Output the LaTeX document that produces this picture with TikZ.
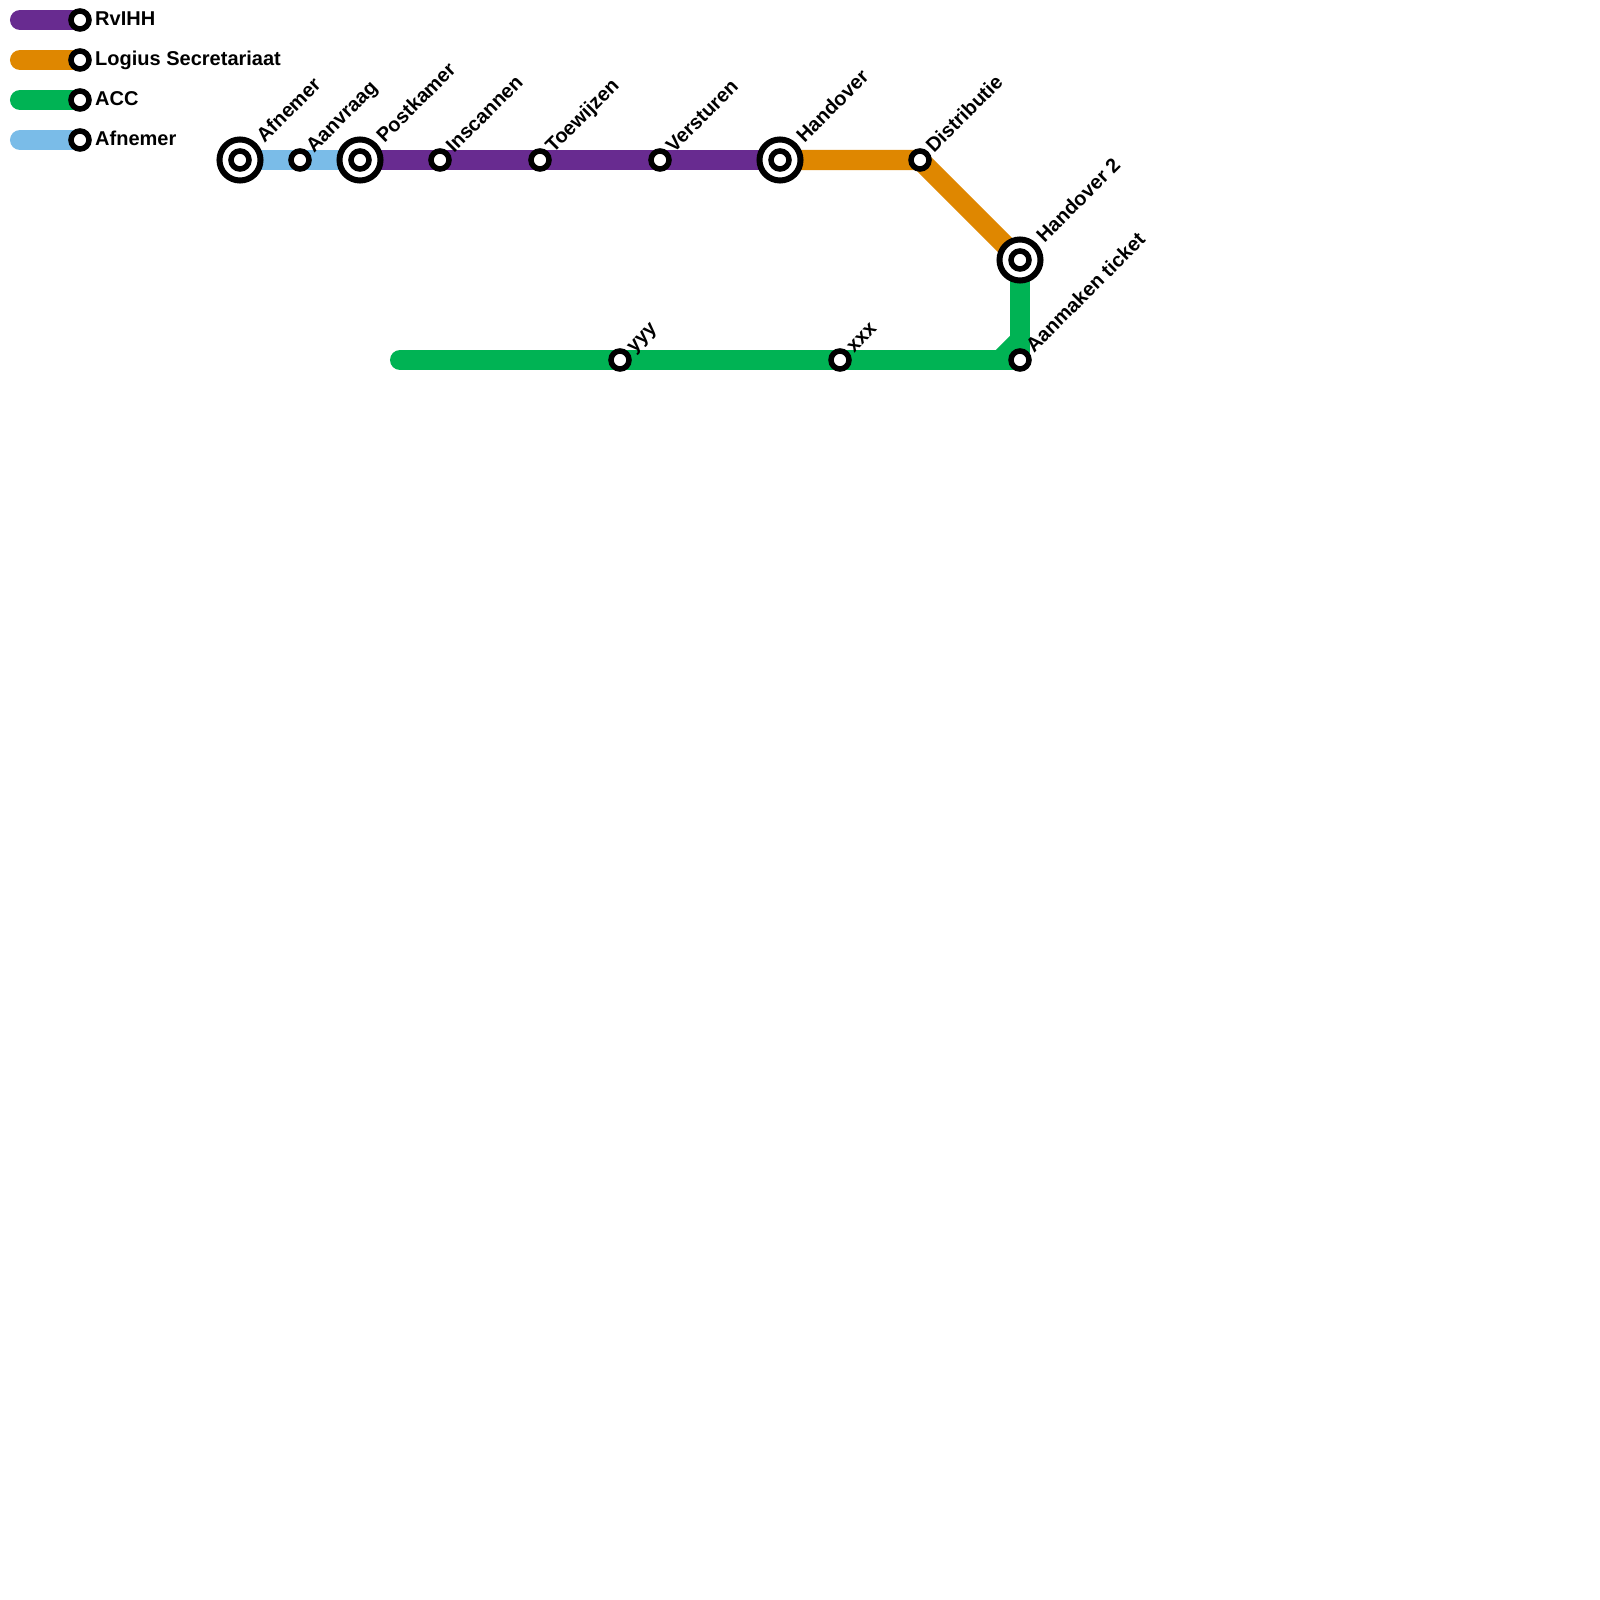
\documentclass[tikz,border=0pt]{standalone}
\usepackage{fontspec}
\setmainfont{Liberation Sans}
\usetikzlibrary{backgrounds}
\definecolor{rvihh}{RGB}{104,43,144}
\definecolor{logius}{RGB}{223,135,0}
\definecolor{acc}{RGB}{0,179,84}
\definecolor{afnemer}{RGB}{122,188,232}
\begin{document}
\begin{tikzpicture}[x=.01cm,y=-.01cm,every node/.style={font=\fontsize{5.69pt}{6pt}\selectfont\bfseries}]
\tikzstyle{halte}=[circle,draw=black,line width=.055cm,fill=white,minimum size=.18cm,inner sep=0pt]
\tikzstyle{hub}=[circle,draw=black,line width=.06cm,fill=white,minimum size=.41cm,inner sep=0pt]
\tikzstyle{lijn}=[line width=.2cm,line join=miter]
\tikzstyle{naam}=[rotate=45,anchor=base west,inner sep=0pt]
\tikzstyle{legenda}=[anchor=base west,inner sep=0pt]
\useasboundingbox (0,0) rectangle (1600,1600);
% legenda
\coordinate (l1) at (20,20);
\coordinate (l2) at (20,60);
\coordinate (l3) at (20,100);
\coordinate (l4) at (20,140);
\node[halte] (k1) at (80,20) {};
\node[halte] (k2) at (80,60) {};
\node[halte] (k3) at (80,100) {};
\node[halte] (k4) at (80,140) {};
\node[legenda] (t1) at (94.5,26) {RvIHH};
\node[legenda] (t2) at (94.5,66) {Logius Secretariaat};
\node[legenda] (t3) at (94.5,106) {ACC};
\node[legenda] (t4) at (94.5,146) {Afnemer};
% bovenste lijn
\node[hub] (afn) at (240,160) {};
\node[halte] (afn2) at (240,160) {};
\node[halte] (aanv) at (300,160) {};
\node[hub] (post) at (360,160) {};
\node[halte] (post2) at (360,160) {};
\node[halte] (scan) at (440,160) {};
\node[halte] (toew) at (540,160) {};
\node[halte] (verst) at (660,160) {};
\node[hub] (hand) at (780,160) {};
\node[halte] (hand2) at (780,160) {};
\node[halte] (distr) at (920,160) {};
\node[hub] (hover) at (1020,260) {};
\node[halte] (hover2) at (1020,260) {};
% onderste lijn
\coordinate (begin) at (400,360);
\node[halte] (yyy) at (620,360) {};
\node[halte] (xxx) at (840,360) {};
\node[halte] (tick) at (1020,360) {};
\coordinate (kn1) at (1000,360);
\coordinate (kn2) at (1020,340);
% namen
\node[naam] (nafn) at (264,144) {Afnemer};
\node[naam] (naanv) at (313.5,154) {Aanvraag};
\node[naam] (npost) at (384,144) {Postkamer};
\node[naam] (nscan) at (453.5,154) {Inscannen};
\node[naam] (ntoew) at (553,154) {Toewijzen};
\node[naam] (nverst) at (673.5,154) {Versturen};
\node[naam] (nhand) at (804,144) {Handover};
\node[naam] (ndistr) at (933.5,154) {Distributie};
\node[naam] (nhover) at (1044,244) {Handover 2};
\node[naam] (nyyy) at (633.5,354) {yyy};
\node[naam] (nxxx) at (853.5,354) {xxx};
\node[naam] (ntick) at (1033.5,354) {Aanmaken ticket};
\begin{scope}[on background layer]
\draw[lijn,rvihh,line cap=round] (l1)--(k1.center);
\draw[lijn,logius,line cap=round] (l2)--(k2.center);
\draw[lijn,acc,line cap=round] (l3)--(k3.center);
\draw[lijn,afnemer,line cap=round] (l4)--(k4.center);
\draw[lijn,afnemer] (afn.center)--(post.center);
\draw[lijn,rvihh] (post.center)--(hand.center);
\draw[lijn,logius] (hand.center)--(distr.center)--(hover.center);
\draw[lijn,acc,line cap=round] (begin)--(tick.center);
\draw[lijn,acc] (kn1)--(kn2);
\draw[lijn,acc] (tick.center)--(hover.center);
\end{scope}
\end{tikzpicture}
\end{document}
